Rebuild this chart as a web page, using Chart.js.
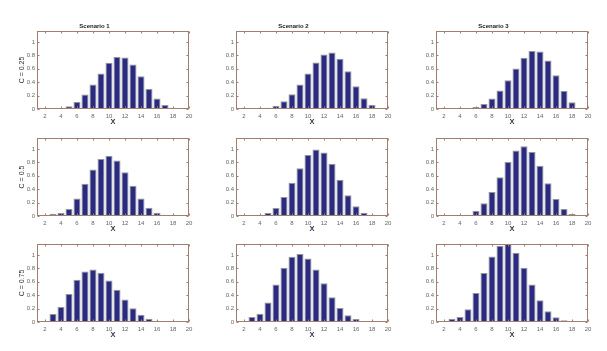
<!DOCTYPE html>
<html>
<head>
<meta charset="utf-8">
<script src="https://cdn.jsdelivr.net/npm/chart.js@4/dist/chart.umd.min.js"></script>
<style>
  html, body { margin: 0; padding: 0; background: #fff; }
  #wrap { position: relative; width: 607px; height: 351px; background: #fff; overflow: hidden; }
  canvas { position: absolute; }
</style>
</head>
<body>
<div id="wrap"></div>
<script>
// ---- data ----
const xCategories = [1,2,3,4,5,6,7,8,9,10,11,12,13,14,15,16,17,18,19,20];
const xTickLabels = [2,4,6,8,10,12,14,16,18,20];
const yTickValues = [0,0.2,0.4,0.6,0.8,1];
const scenarioTitles = ['Scenario 1','Scenario 2','Scenario 3'];
const rowLabels = ['C = 0.25','C = 0.5','C = 0.75'];
const xLabel = 'X';

const c025_s1 = [0,0.002,0.012,0.015,0.04,0.105,0.215,0.365,0.53,0.69,0.775,0.77,0.665,0.49,0.30,0.155,0.06,0.02,0.007,0.003];
const c025_s2 = [0,0.001,0.005,0.01,0.02,0.05,0.115,0.22,0.365,0.53,0.695,0.815,0.845,0.75,0.565,0.34,0.16,0.06,0.01,0.003];
const c025_s3 = [0,0,0.003,0.005,0.01,0.03,0.075,0.155,0.275,0.43,0.605,0.765,0.865,0.86,0.725,0.505,0.27,0.10,0.02,0.005];
const c05_s1  = [0,0.003,0.035,0.045,0.105,0.26,0.48,0.695,0.85,0.9,0.83,0.655,0.45,0.26,0.125,0.05,0.02,0.01,0.005,0.002];
const c05_s2  = [0,0.002,0.015,0.02,0.045,0.12,0.285,0.495,0.715,0.91,0.995,0.95,0.78,0.54,0.31,0.145,0.05,0.02,0.005,0.002];
const c05_s3  = [0,0.002,0.01,0.01,0.02,0.08,0.19,0.36,0.58,0.805,0.98,1.04,0.955,0.75,0.49,0.255,0.105,0.03,0.005,0.002];
const c075_s1 = [0,0.005,0.12,0.225,0.42,0.63,0.755,0.785,0.735,0.62,0.48,0.335,0.205,0.11,0.05,0.02,0.01,0.005,0.002,0];
const c075_s2 = [0,0.003,0.075,0.125,0.29,0.56,0.81,0.975,1.015,0.95,0.785,0.58,0.37,0.21,0.10,0.045,0.015,0.005,0.002,0];
const c075_s3 = [0,0.003,0.05,0.075,0.19,0.435,0.73,0.98,1.14,1.17,1.035,0.81,0.56,0.325,0.16,0.07,0.025,0.005,0.002,0];

const panelData = [
  [c025_s1, c025_s2, c025_s3],
  [c05_s1,  c05_s2,  c05_s3],
  [c075_s1, c075_s2, c075_s3]
];

// ---- layout / style ----
const FONT = "Arial, 'Liberation Sans', Helvetica, sans-serif";
const boxLeft = [37, 236, 436];
const boxTop = [31, 138, 244];
const boxW = 152, boxH = 78;
const padL = 37, padR = 8, padT = 18, padB = 20;
const Y_MAX = 1.165;
const axisColor = '#a07e70';
const barColor = '#2a2a80';
const barEdge = '#959595';
const tickColor = '#666666';

const boxPlugin = {
  id: 'matlabBox',
  afterDraw(chart) {
    const {ctx, chartArea: a, scales: {x, y}} = chart;
    ctx.save();
    ctx.strokeStyle = axisColor;
    ctx.lineWidth = 1;
    const L = Math.round(a.left) + 0.5, R = Math.round(a.right) - 0.5;
    const T = Math.round(a.top) + 0.5, B = Math.round(a.bottom) - 0.5;
    ctx.strokeRect(L, T, R - L, B - T);
    ctx.beginPath();
    const tl = 2;
    x.ticks.forEach((t, i) => {
      if (xTickLabels.includes(xCategories[i])) {
        const px = Math.round(x.getPixelForTick(i)) + 0.5;
        ctx.moveTo(px, B); ctx.lineTo(px, B - tl);
        ctx.moveTo(px, T); ctx.lineTo(px, T + tl);
      }
    });
    y.ticks.forEach((t, i) => {
      const py = Math.round(y.getPixelForTick(i)) + 0.5;
      ctx.moveTo(L, py); ctx.lineTo(L + tl, py);
      ctx.moveTo(R, py); ctx.lineTo(R - tl, py);
    });
    ctx.stroke();
    ctx.restore();
  }
};

const wrap = document.getElementById('wrap');
for (let r = 0; r < 3; r++) {
  for (let c = 0; c < 3; c++) {
    const cv = document.createElement('canvas');
    const W = padL + boxW + padR, H = padT + boxH + padB;
    cv.width = W; cv.height = H;
    cv.style.left = (boxLeft[c] - padL) + 'px';
    cv.style.top = (boxTop[r] - padT) + 'px';
    cv.style.width = W + 'px'; cv.style.height = H + 'px';
    wrap.appendChild(cv);

    new Chart(cv, {
      type: 'bar',
      data: {
        labels: xCategories.map(String),
        datasets: [{
          data: panelData[r][c],
          backgroundColor: barColor,
          borderColor: barEdge,
          borderWidth: 1,
          barPercentage: 0.88,
          categoryPercentage: 1,
          clip: 0
        }]
      },
      options: {
        responsive: false,
        devicePixelRatio: 1,
        animation: false,
        layout: { padding: { left: 0, right: padR, top: r === 0 ? 0 : padT, bottom: 0 } },
        plugins: {
          legend: { display: false },
          tooltip: { enabled: false },
          title: {
            display: r === 0,
            text: scenarioTitles[c],
            color: '#1a1a1a',
            font: { family: FONT, size: 6, weight: 'bold', lineHeight: 1.2 },
            padding: { top: 10.1, bottom: 0.7 }
          }
        },
        scales: {
          x: {
            type: 'category',
            offset: false,
            grid: { display: false, drawTicks: false },
            border: { display: false },
            afterFit(s) { s.height = padB; },
            ticks: {
              autoSkip: false, maxRotation: 0, minRotation: 0,
              padding: 4,
              color: tickColor,
              font: { family: FONT, size: 6 },
              callback(v, i) {
                const n = xCategories[i];
                return xTickLabels.includes(n) ? String(n) : '';
              }
            },
            title: {
              display: true,
              text: xLabel,
              color: '#3a3050',
              font: { family: FONT, size: 7.5, weight: 'bold', lineHeight: 1.2 },
              padding: { top: 0, bottom: 2.2 }
            }
          },
          y: {
            min: 0, max: Y_MAX,
            grid: { display: false, drawTicks: false },
            border: { display: false },
            afterFit(s) { s.width = padL; },
            afterBuildTicks(s) { s.ticks = yTickValues.map(v => ({ value: v })); },
            ticks: {
              padding: 2,
              color: tickColor,
              font: { family: FONT, size: 6 },
              callback(v) { return String(+Number(v).toFixed(1)); }
            },
            title: {
              display: c === 0,
              text: rowLabels[r],
              color: '#333',
              font: { family: FONT, size: 7, lineHeight: 1.2 },
              padding: { top: 17.8, bottom: 0 }
            }
          }
        }
      },
      plugins: [boxPlugin]
    });
  }
}
</script>
</body>
</html>
